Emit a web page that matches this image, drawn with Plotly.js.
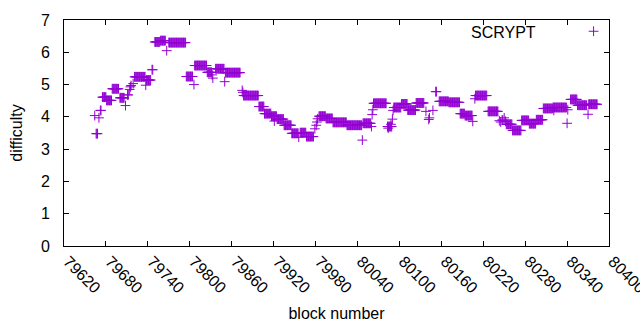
<!DOCTYPE html>
<html>
<head>
<meta charset="utf-8">
<script src="https://cdn.plot.ly/plotly-3.0.1.min.js"></script>
<style>html,body{margin:0;padding:0;background:#fff;}#chart{width:640px;height:330px;}</style>
</head>
<body>
<div id="chart"></div>
<script>
// Runs of constant SCRYPT difficulty: first block, last block, difficulty (one point per block)
const runStart = [79664,79666,79670,79672,79675,79681,79689,79700,79708,79711,79714,79715,79716,79719,79721,79737,79738,79746,79750,79758,79767,79770,79795,79806,79807,79825,79832,79833,79837,79850,79851,79875,79876,79877,79899,79907,79917,79921,79925,79935,79946,79956,79958,79967,79979,79981,79982,79983,79985,79995,80005,80025,80047,80048,80060,80061,80062,80063,80083,80084,80088,80090,80091,80092,80103,80112,80124,80138,80142,80143,80148,80152,80157,80171,80187,80194,80205,80208,80209,80227,80243,80245,80247,80250,80252,80253,80262,80275,80286,80296,80306,80320,80321,80340,80341,80345,80355,80370,80371];
const runEnd   = [79664,79668,79670,79673,79680,79688,79698,79706,79708,79712,79714,79715,79716,79719,79736,79737,79744,79747,79757,79765,79767,79794,79804,79806,79824,79831,79832,79833,79849,79850,79872,79875,79876,79898,79906,79916,79924,79921,79934,79945,79955,79956,79966,79977,79979,79981,79982,79983,79994,80004,80024,80046,80047,80059,80060,80061,80062,80081,80089,80084,80088,80090,80091,80102,80111,80123,80135,80138,80142,80143,80148,80153,80170,80186,80193,80204,80205,80208,80225,80241,80243,80245,80248,80250,80252,80261,80274,80285,80295,80305,80319,80339,80321,80340,80341,80354,80368,80370,80383];
const runValue = [4.04,3.48,3.97,4.20,4.61,4.51,4.87,4.59,4.35,4.68,4.85,4.93,4.97,5.03,5.24,4.98,5.14,5.46,6.32,6.36,6.05,6.30,5.25,5.00,5.59,5.38,5.30,5.20,5.49,5.09,5.37,4.82,4.76,4.66,4.32,4.10,4.02,3.87,3.93,3.74,3.49,3.37,3.51,3.39,3.63,3.74,3.84,3.94,4.02,3.95,3.83,3.74,3.28,3.80,3.70,4.07,4.22,4.42,3.70,3.65,3.77,3.93,4.20,4.29,4.40,4.21,4.43,4.17,3.92,3.97,4.20,4.78,4.48,4.45,4.10,4.04,3.86,4.56,4.66,4.17,3.88,3.84,3.90,3.97,3.86,3.77,3.58,3.89,3.79,3.91,4.26,4.29,4.20,3.80,4.22,4.54,4.36,4.08,4.39];

const seriesName = "SCRYPT";
const xTitle = "block number";
const yTitle = "difficulty";

const blocks = [], difficulty = [];
for (let i = 0; i < runStart.length; i++) {
  for (let b = runStart[i]; b <= runEnd[i]; b++) { blocks.push(b); difficulty.push(runValue[i]); }
}

const fontFam = '"Liberation Sans", Arial, sans-serif';
const violet = '#9400d3';

const trace = {
  x: blocks, y: difficulty, type: 'scatter', mode: 'markers', name: ' ',
  marker: {symbol: 'cross-thin', size: 7, color: violet, line: {width: 1, color: violet}},
  showlegend: true, hoverinfo: 'skip'
};

const layout = {
  width: 640, height: 330,
  margin: {l: 64, r: 31, t: 20, b: 84},
  paper_bgcolor: '#fff', plot_bgcolor: '#fff',
  font: {family: fontFam, size: 16, color: '#000'},
  showlegend: true,
  legend: {x: 0.935, y: 1.025, xanchor: 'left', yanchor: 'top', bgcolor: 'rgba(0,0,0,0)', font: {size: 16}},
  xaxis: {
    range: [79620, 80400], tick0: 79620, dtick: 60, tickmode: 'linear', tickformat: 'd',
    ticks: 'inside', ticklen: 5, tickcolor: '#000', showline: true, linecolor: '#000', linewidth: 1,
    mirror: 'ticks', showgrid: false, zeroline: false, tickangle: 45,
    tickfont: {size: 16, family: fontFam}, ticklabelstandoff: -1, ticklabelshift: 4,
    ticklabeloverflow: 'allow',
    title: {text: xTitle, font: {size: 16, family: fontFam}, standoff: 12}
  },
  yaxis: {
    range: [0, 7], dtick: 1, tick0: 0, tickmode: 'linear',
    ticks: 'inside', ticklen: 5, tickcolor: '#000', showline: true, linecolor: '#000', linewidth: 1,
    mirror: 'ticks', showgrid: false, zeroline: false,
    tickfont: {size: 16, family: fontFam}, ticklabelstandoff: 10,
    title: {text: yTitle, font: {size: 16, family: fontFam}, standoff: 14}
  },
  annotations: [{
    xref: 'paper', yref: 'paper', x: 0.8697, y: 0.9456, xanchor: 'right', yanchor: 'middle',
    text: seriesName, showarrow: false, font: {size: 16, family: fontFam, color: '#000'}
  }]
};

Plotly.newPlot('chart', [trace], layout, {staticPlot: true, displayModeBar: false});
</script>
</body>
</html>
